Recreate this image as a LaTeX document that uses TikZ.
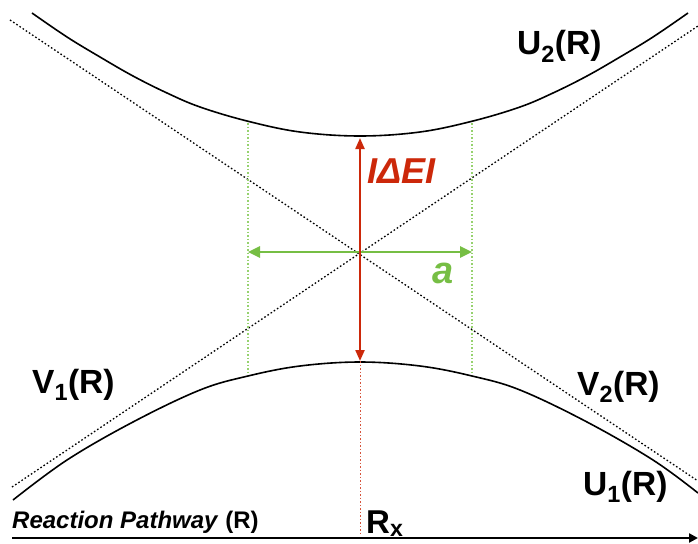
\documentclass[tikz,border=0pt]{standalone}
\usepackage{fontspec}
\setmainfont{Liberation Sans}
\usetikzlibrary{arrows.meta}
\definecolor{myred}{RGB}{204,40,10}
\definecolor{mygreen}{RGB}{118,190,68}
\definecolor{mygreenl}{RGB}{150,210,110}
\tikzset{
  curve/.style={line width=1.6pt, black},
  asym/.style={line width=1.3pt, black, dash pattern=on 1.6pt off 2.2pt},
  lbl/.style={inner sep=0pt, font=\bfseries\fontsize{33.5}{38}\selectfont},
  gguide/.style={mygreenl, line width=1.2pt, dash pattern=on 1.5pt off 2pt},
  rguide/.style={myred!80, line width=0.9pt, dash pattern=on 1.5pt off 2pt},
}
\begin{document}
\begin{tikzpicture}[x=1pt,y=-1pt]
\useasboundingbox (0,0) rectangle (698,543);
% asymptotes (diabatic V1, V2)
\coordinate (d1a) at (10,20);
\coordinate (d1b) at (698,481);
\coordinate (d2a) at (12,487);
\coordinate (d2b) at (698,26);
\draw[asym] (d1a) -- (d1b);
\draw[asym] (d2a) -- (d2b);
% adiabatic curves
\draw[curve] plot[smooth, tension=0.6] coordinates {(32,13) (67,37) (100,57) (133,76) (167,93) (200,107) (247,121) (300,132) (360,136) (420,132) (473,121) (520,107) (553,93) (587,76) (620,57) (653,37) (688,13)};
\draw[curve] plot[smooth, tension=0.6] coordinates {(13,500) (67,460) (133,422) (200,390) (248,376) (300,366) (360,362) (420,366) (472,376) (520,390) (587,422) (653,460) (698,493)};
% green guides
\coordinate (gl1) at (248,123);
\coordinate (gl2) at (248,375);
\coordinate (gr1) at (472,123);
\coordinate (gr2) at (472,375);
\draw[gguide] (gl1) -- (gl2);
\draw[gguide] (gr1) -- (gr2);
\coordinate (ga) at (248,252);
\coordinate (gb) at (472,252);
\draw[mygreen, line width=2.6pt, {Triangle[length=12pt,width=11pt]}-{Triangle[length=12pt,width=11pt]}] (ga) -- (gb);
% red gap arrow
\coordinate (rt) at (360,138);
\coordinate (rb) at (360,361);
\coordinate (rx) at (360,536);
\draw[rguide] (rb) -- (rx);
\draw[myred, line width=2.2pt, {Triangle[length=11pt,width=9pt]}-{Triangle[length=11pt,width=9pt]}] (rt) -- (rb);
% axis
\coordinate (ax0) at (12,538);
\coordinate (ax1) at (698,538);
\draw[line width=2.6pt, -{Triangle[length=9pt,width=9pt]}] (ax0) -- (ax1);
% labels
\node[lbl, anchor=base west] (u2) at (517,55) {U\textsubscript{2}(R)};
\node[lbl, anchor=base west] (v1) at (32,393) {V\textsubscript{1}(R)};
\node[lbl, anchor=base west] (v2) at (577,395) {V\textsubscript{2}(R)};
\node[lbl, anchor=base west] (u1) at (583,495) {U\textsubscript{1}(R)};
\node[lbl, anchor=base west, text=myred, font=\bfseries\itshape\fontsize{36}{40}\selectfont] (de) at (367,183) {IΔEI};
\node[lbl, anchor=base west, text=mygreen, font=\bfseries\itshape\fontsize{38}{42}\selectfont] (a) at (432,283) {a};
\node[lbl, anchor=base west, font=\bfseries\fontsize{24}{28}\selectfont] (rp) at (12,528) {\textit{Reaction Pathway} (R)};
\node[lbl, anchor=base west, font=\bfseries\fontsize{33}{36}\selectfont] (rxl) at (366,533) {R\textsubscript{x}};
\end{tikzpicture}
\end{document}
